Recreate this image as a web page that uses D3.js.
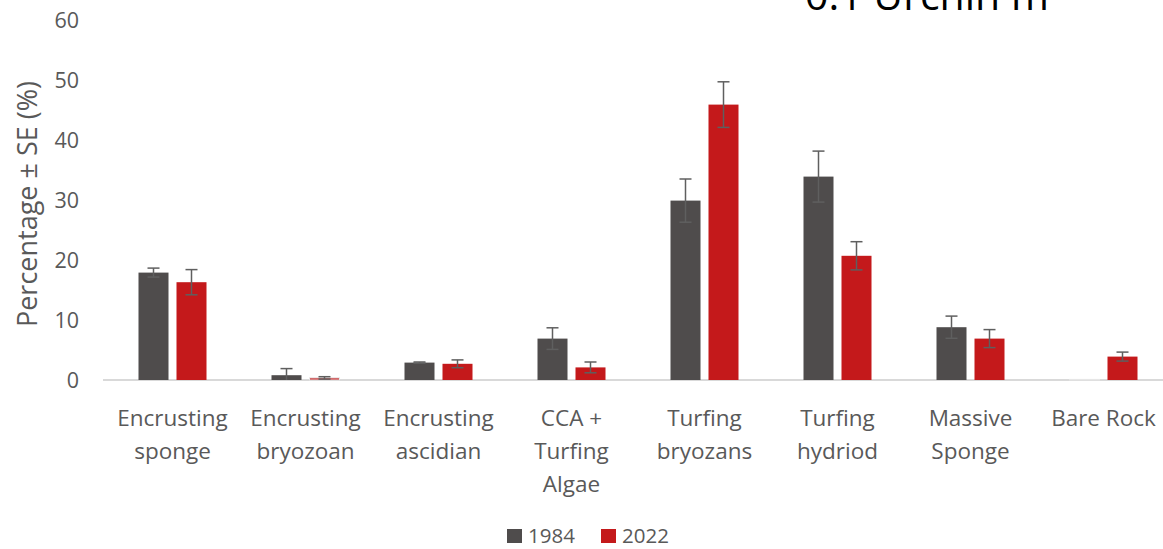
<!DOCTYPE html>
<html>
<head>
<meta charset="utf-8">
<script src="https://cdn.jsdelivr.net/npm/d3@7"></script>
<style>
  html, body { margin: 0; padding: 0; background: #fff; overflow: hidden; }
  svg { display: block; font-family: "Open Sans", sans-serif; }
  svg text { font-family: "Open Sans", sans-serif; }
</style>
</head>
<body>
<svg id="chart" width="1163" height="549"></svg>
<script>
// Benthic cover by category, two survey years
const categories = [
  ["Encrusting", "sponge"],
  ["Encrusting", "bryozoan"],
  ["Encrusting", "ascidian"],
  ["CCA +", "Turfing", "Algae"],
  ["Turfing", "bryozans"],
  ["Turfing", "hydriod"],
  ["Massive", "Sponge"],
  ["Bare Rock"]
];
const years = ["1984", "2022"];
const mean1984 = [17.9, 0.8, 2.9, 6.9, 29.9, 33.9, 8.8, 0.1];
const se1984   = [0.75, 1.1, 0.1, 1.8, 3.6, 4.25, 1.85, 0];
const mean2022 = [16.3, 0.35, 2.7, 2.1, 45.9, 20.7, 6.9, 3.9];
const se2022   = [2.1, 0.2, 0.65, 0.9, 3.8, 2.35, 1.5, 0.75];
const yTicks = [0, 10, 20, 30, 40, 50, 60];
const colors = ["#4f4c4c", "#c4191b"];

const svg = d3.select("#chart");
const margin = { left: 106, right: -7, top: 20, bottom: 169 };
const W = 1163, H = 549;
const textColor = "#595959";

const x = d3.scaleBand()
  .domain(d3.range(categories.length))
  .range([margin.left, W - margin.right])
  .paddingInner(0).paddingOuter(0);

const y = d3.scaleLinear().domain([0, 60]).range([H - margin.bottom, margin.top]);

const barW = 30, gap = 8;
const x1 = d3.scaleBand().domain(years).range([0, barW * 2 + gap]).paddingInner(gap / (barW + gap));

// y axis tick labels (no axis line)
const yAxis = d3.axisLeft(y).tickValues(yTicks).tickSize(0).tickPadding(0);
const gy = svg.append("g").attr("transform", `translate(${79},0)`).call(yAxis);
gy.attr("font-family", null).attr("font-size", null);
gy.select(".domain").remove();
gy.selectAll("text").attr("fill", textColor).style("font-size", "21.5px").attr("dy", "0.36em");

// y axis title
svg.append("text")
  .attr("transform", `translate(37,${204}) rotate(-90)`)
  .attr("text-anchor", "middle")
  .attr("fill", textColor)
  .style("font-size", "27px")
  .text("Percentage ± SE (%)");

// baseline
svg.append("line")
  .attr("x1", margin.left - 3).attr("x2", W)
  .attr("y1", y(0)).attr("y2", y(0))
  .attr("stroke", "#d9d9d9").attr("stroke-width", 2);

const series = [
  { year: "1984", mean: mean1984, se: se1984, color: colors[0] },
  { year: "2022", mean: mean2022, se: se2022, color: colors[1] }
];

const groupOffset = (x.bandwidth() - (barW * 2 + gap)) / 2;

series.forEach(s => {
  const g = svg.append("g");
  const rows = categories.map((c, i) => ({ i, v: s.mean[i], e: s.se[i] }));
  g.selectAll("rect").data(rows).join("rect")
    .attr("x", d => x(d.i) + groupOffset + x1(s.year))
    .attr("width", x1.bandwidth())
    .attr("y", d => y(d.v))
    .attr("height", d => y(0) - y(d.v))
    .attr("fill", d => d.v < 0.2 ? "#d9d9d9" : s.color)
    .attr("stroke", d => d.v < 0.5 ? "#e6e6e6" : "none");

  const eb = g.selectAll("g.err").data(rows.filter(d => d.e > 0)).join("g").attr("class", "err")
    .attr("transform", d => `translate(${x(d.i) + groupOffset + x1(s.year) + x1.bandwidth() / 2},0)`);
  eb.append("line")
    .attr("y1", d => y(d.v + d.e)).attr("y2", d => y(Math.max(0, d.v - d.e)))
    .attr("stroke", "#5f5f5f").attr("stroke-width", 1.5);
  eb.append("line")
    .attr("x1", -6).attr("x2", 6)
    .attr("y1", d => y(d.v + d.e)).attr("y2", d => y(d.v + d.e))
    .attr("stroke", "#5f5f5f").attr("stroke-width", 1.5);
  eb.append("line")
    .attr("x1", -6).attr("x2", 6)
    .attr("y1", d => y(Math.max(0, d.v - d.e))).attr("y2", d => y(Math.max(0, d.v - d.e)))
    .attr("stroke", "#5f5f5f").attr("stroke-width", 1.5)
    .attr("visibility", d => d.v - d.e > 0 ? "visible" : "hidden");
});

// category labels
const cl = svg.append("g").selectAll("text").data(categories).join("text")
  .attr("text-anchor", "middle")
  .attr("fill", textColor)
  .style("font-size", "22.5px")
  .attr("x", (d, i) => x(i) + x.bandwidth() / 2)
  .attr("y", 426);
cl.selectAll("tspan").data(d => d).join("tspan")
  .attr("x", function () { return d3.select(this.parentNode).attr("x"); })
  .attr("dy", (d, j) => j === 0 ? 0 : 33)
  .text(d => d);

// legend
const legend = svg.append("g");
const legendX = [507, 601];
years.forEach((yr, k) => {
  legend.append("rect").attr("x", legendX[k]).attr("y", 529).attr("width", 15).attr("height", 14).attr("fill", colors[k]);
  legend.append("text").attr("x", legendX[k] + 21).attr("y", 543)
    .attr("fill", textColor).style("font-size", "20.5px").text(yr);
});

// title, partly above the top edge
svg.append("text")
  .attr("x", 805).attr("y", 10)
  .attr("fill", "#000")
  .style("font-size", "41px")
  .text("0.1 Urchin m");
</script>
</body>
</html>
